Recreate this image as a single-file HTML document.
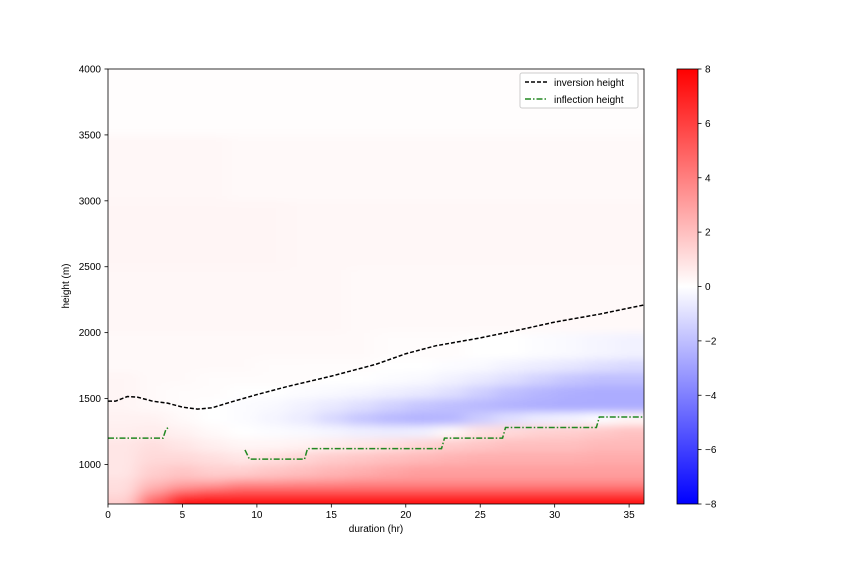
<!DOCTYPE html>
<html><head><meta charset="utf-8"><style>
body{margin:0;background:#fff;font-family:"Liberation Sans",sans-serif}
text{font-family:"Liberation Sans",sans-serif;font-size:10px;fill:#000}
</style></head><body>
<svg id="chart" width="864" height="576" xmlns="http://www.w3.org/2000/svg">
<defs>
<clipPath id="clip"><rect x="108" y="69" width="536" height="435"/></clipPath>
<filter id="blur" x="-5%" y="-5%" width="110%" height="110%"><feGaussianBlur stdDeviation="9 4"/></filter>
<linearGradient id="cbg" x1="0" y1="1" x2="0" y2="0"><stop offset="0" stop-color="#0000ff"/><stop offset="0.5" stop-color="#ffffff"/><stop offset="1" stop-color="#ff0000"/></linearGradient>
</defs>
<rect x="108" y="69" width="536" height="435" fill="#fff"/>
<g id="heat" clip-path="url(#clip)"><g id="cells" filter="url(#blur)"></g></g>
<g id="lines" clip-path="url(#clip)"></g>
<rect x="108" y="69" width="536" height="435" fill="none" stroke="#000" stroke-width="0.8"/>
<g id="axes"></g>
<text x="376" y="532" text-anchor="middle">duration (hr)</text>
<text transform="translate(69,286) rotate(-90)" text-anchor="middle">height (m)</text>
<rect x="677" y="69" width="21" height="435" fill="url(#cbg)" stroke="#000" stroke-width="0.8"/>
<g id="cbticks"></g>
<g>
<rect x="520" y="73" width="118" height="35" rx="2" fill="#fff" fill-opacity="0.8" stroke="#ccc"/>
<line x1="525" y1="82" x2="547" y2="82" stroke="#000" stroke-width="1.5" stroke-dasharray="4,2"/>
<text x="554" y="86">inversion height</text>
<line x1="525" y1="99" x2="547" y2="99" stroke="#228822" stroke-width="1.5" stroke-dasharray="6,2,1.5,2"/>
<text x="554" y="103">inflection height</text>
</g>
</svg>
<script>
const timeEdges=[0,2,4,6,8,10,12,14,16,18,20,22,24,26,28,30,32,34,36];
const heightEdges=[700,750,800,850,900,1000,1100,1200,1300,1400,1500,1600,1700,1800,2000,2500,3000,3500,4000];
const values=[
[1.5,5,7.5,7.5,7.5,7.5,7.5,7.5,7.5,7.5,7.5,7.5,7.5,7.5,7.5,7.5,7.5,7.5],
[1.2,3.5,5.5,6,6,6,6,6,6,6,6,6,6,6,6,6,6,6],
[1,2.5,3.5,4,4.5,4.5,4.5,4.5,4.5,4.5,4.5,4.5,4.5,4.5,4.5,4.5,4.5,4.5],
[1,2,2.5,2.5,3,3,3.2,3.3,3.5,3.5,3.5,3.5,3.5,3.5,3.5,3.5,3.5,3.5],
[0.8,1.5,1.8,1.5,1.5,1.8,2,2.3,2.5,2.8,3,3,3,3,3,3,3,3],
[0.8,1.2,1.2,1,0.8,1,1.3,1.6,1.8,2,2.2,2.4,2.5,2.5,2.5,2.5,2.6,2.6],
[0.8,1,0.8,0.5,0.3,0.3,0.4,0.6,0.8,1,1.3,1.6,1.8,2,2,2,2.2,2.2],
[0.5,0.6,0.4,0.2,0,-0.1,-0.2,-0.3,-0.5,-0.6,-0.5,0.2,0.9,1.2,1.4,1.5,1.7,1.9],
[0.4,0.4,0.2,0,-0.1,-0.3,-0.6,-1.2,-1.8,-2.2,-2.4,-2.3,-1.6,-1,-0.6,-0.4,-0.1,0.3],
[0.3,0.2,0.1,0,-0.1,-0.2,-0.4,-0.7,-1,-1.4,-1.8,-2,-2.2,-2.4,-2.5,-2.6,-2.6,-2.6],
[0.3,0.2,0.1,0.1,0,0,-0.1,-0.2,-0.3,-0.5,-0.7,-1,-1.5,-2,-2.3,-2.5,-2.6,-2.6],
[0.3,0.2,0.2,0.1,0.1,0.1,0.1,0,0,-0.1,-0.2,-0.4,-0.7,-1,-1.4,-1.8,-2,-2],
[0.2,0.2,0.2,0.2,0.2,0.1,0.1,0.1,0.1,0,0,-0.1,-0.2,-0.4,-0.6,-0.8,-1,-1.2],
[0.2,0.2,0.2,0.2,0.2,0.2,0.2,0.2,0.2,0.1,0.1,0.1,0,0,-0.1,-0.2,-0.3,-0.4],
[0.25,0.25,0.25,0.25,0.25,0.25,0.25,0.25,0.2,0.2,0.2,0.2,0.2,0.2,0.2,0.2,0.2,0.2],
[0.3,0.3,0.3,0.3,0.3,0.3,0.25,0.25,0.25,0.25,0.25,0.25,0.25,0.25,0.25,0.25,0.25,0.25],
[0.25,0.25,0.25,0.25,0.2,0.2,0.2,0.2,0.2,0.2,0.2,0.2,0.2,0.2,0.2,0.2,0.2,0.2],
[0.05,0.05,0.05,0.05,0.05,0.05,0.05,0.05,0.05,0.05,0.05,0.05,0.05,0.05,0.05,0.05,0.05,0.05]
];
const invT=[0,0.5,1.3,2,3,4,5,6,7,8,10,12,15,18,20,22,25,28,30,33,36];
const invH=[1480,1480,1515,1510,1480,1465,1435,1420,1430,1465,1530,1590,1670,1760,1840,1900,1960,2030,2080,2140,2210];
const infT1=[0,3.7,3.9,4.1];
const infH1=[1200,1200,1270,1280];
const infT2=[9.2,9.5,13.2,13.4,22.4,22.6,26.5,26.7,32.8,33,36];
const infH2=[1110,1040,1040,1120,1120,1200,1200,1280,1280,1360,1360];
const xTicks=[0,5,10,15,20,25,30,35];
const yTicks=[1000,1500,2000,2500,3000,3500,4000];
const cbTicks=[-8,-6,-4,-2,0,2,4,6,8];
const NS="http://www.w3.org/2000/svg";
const X=t=>108+t*(536/36), Y=h=>504-(h-700)*(435/3300), CY=v=>504-(v+8)*(435/16);
function col(v){let f=Math.max(-1,Math.min(1,v/8));
 if(f>=0){const g=Math.round(255*(1-f));return `rgb(255,${g},${g})`;}
 const g=Math.round(255*(1+f));return `rgb(${g},${g},255)`;}
function mk(tag,attrs,parent){const e=document.createElementNS(NS,tag);for(const k in attrs)e.setAttribute(k,attrs[k]);parent.appendChild(e);return e;}
const cells=document.getElementById('cells');
for(let r=0;r<values.length;r++)for(let c=0;c<values[r].length;c++){
 const x0=X(timeEdges[c])-(c==0?20:0),x1=X(timeEdges[c+1])+(c==values[r].length-1?20:0.5);
 const y0=Y(heightEdges[r+1])-(r==values.length-1?20:0),y1=Y(heightEdges[r])+(r==0?20:0.5);
 const e=mk('rect',{x:x0,y:y0,width:x1-x0,height:y1-y0,fill:col(values[r][c])},cells);
 
 
}
const lines=document.getElementById('lines');
function pl(ts,hs,stroke,dash,name){const p=mk('polyline',{points:ts.map((t,i)=>X(t)+','+Y(hs[i])).join(' '),fill:'none',stroke:stroke,'stroke-width':1.5,'stroke-dasharray':dash},lines);
 
 }
pl(invT,invH,'#000','4,2','inversion-height-line');
pl(infT1,infH1,'#228822','6,2,1.5,2','inflection-height-line-early');
pl(infT2,infH2,'#228822','6,2,1.5,2','inflection-height-line-late');
const axes=document.getElementById('axes');
xTicks.forEach(t=>{mk('line',{x1:X(t),x2:X(t),y1:504,y2:507.5,stroke:'#000','stroke-width':0.8},axes);
 const s=mk('text',{x:X(t),y:518,'text-anchor':'middle'},axes);s.textContent=t;
 
 });
yTicks.forEach(h=>{mk('line',{x1:104.5,x2:108,y1:Y(h),y2:Y(h),stroke:'#000','stroke-width':0.8},axes);
 const s=mk('text',{x:101,y:Y(h)+3.5,'text-anchor':'end'},axes);s.textContent=h;
 
 });
const cb=document.getElementById('cbticks');
cbTicks.forEach(v=>{mk('line',{x1:698,x2:701.5,y1:CY(v),y2:CY(v),stroke:'#000','stroke-width':0.8},cb);
 const s=mk('text',{x:705,y:CY(v)+3.5},cb);s.textContent=v<0?'\u2212'+(-v):v;
 
 });
</script>
</body></html>
